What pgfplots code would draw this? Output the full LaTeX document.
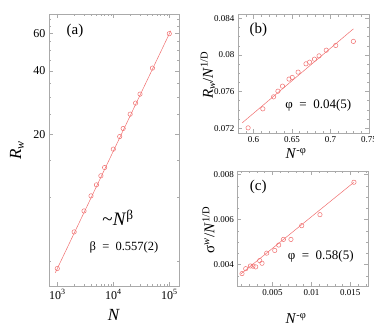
\documentclass[border=0pt]{standalone}
\usepackage{pgfplots}
\pgfplotsset{compat=1.18}
\usepackage{fontspec}
\setmainfont{Liberation Serif}
\definecolor{fitred}{RGB}{240,110,110}
\definecolor{frame}{RGB}{170,170,170}

\pgfplotsset{
  panel/.style={
    scale only axis, anchor=south west,
    axis line style={frame}, every tick/.style={frame},
    major tick length=4pt, minor tick length=2pt,
    scaled ticks=false,
    /pgf/number format/assume math mode=true,
    every axis label/.style={font=\fontsize{17}{17}\selectfont},
  },
  pts/.style={only marks, mark=o, mark size=2.2pt, fitred, mark options={line width=0.5pt}},
  fit/.style={fitred, line width=0.5pt, no marks},
}

\begin{document}
\begin{tikzpicture}
\useasboundingbox (0,0) rectangle (374pt,327pt);

% (a) R_w vs N, log-log
\begin{axis}[panel, at={(49pt,41pt)}, width=130pt, height=272pt,
  xmode=log, ymode=log,
  xmin=711, xmax=149000, ymin=3.81, ymax=74.4,
  xtick={1000,10000,100000},
  xticklabels={10\textsuperscript{3},10\textsuperscript{4},10\textsuperscript{5}},
  ytick={20,40,60}, yticklabels={20,40,60},
  minor ytick={5,10,15,25,30,35,45,50,55,65,70},
  ticklabel style={font=\fontsize{12}{12}\selectfont},
  xlabel={\textit{N}}, ylabel={\textit{R}\textsubscript{\textit{w}}},
  xlabel style={at={(axis description cs:0.5,-0.107)}, anchor=center},
  ylabel style={at={(axis description cs:-0.246,0.5)}, anchor=center},
]
\addplot[fit] coordinates {(920,4.40) (106000,61.9)};
\addplot[pts] coordinates {
(1000,4.61) (2000,6.88) (3000,8.65) (4000,10.2) (5000,11.5) (6000,12.7)
(7000,13.9) (10000,17.0) (13000,19.5) (15000,21.3) (20000,24.9)
(25000,28.1) (30000,31.0) (50000,41.2) (100000,60.0)};
\node[font=\fontsize{15}{15}\selectfont] at (axis description cs:0.2,0.9375) {(a)};
\node[font=\fontsize{19}{19}\selectfont] at (axis description cs:0.531,0.25) {\textasciitilde\textit{N}\textsuperscript{β}};
\node[font=\fontsize{12.5}{12.5}\selectfont] at (axis description cs:0.577,0.14) {β\ \ =\ \ 0.557(2)};
\end{axis}

% (b)
\begin{axis}[panel, at={(238pt,194.3pt)}, width=131pt, height=118pt,
  xmin=0.58, xmax=0.75, ymin=0.0715, ymax=0.0844,
  xtick={0.6,0.65,0.7,0.75}, xticklabels={0.6,0.65,0.7,0.75},
  ytick={0.072,0.076,0.08,0.084}, yticklabels={0.072,0.076,0.08,0.084},
  minor xtick={0.59,0.61,0.62,0.63,0.64,0.66,0.67,0.68,0.69,0.71,0.72,0.73,0.74},
  minor ytick={0.073,0.074,0.075,0.077,0.078,0.079,0.081,0.082,0.083},
  ticklabel style={font=\fontsize{9}{9}\selectfont},
  every axis label/.append style={font=\fontsize{15}{15}\selectfont},
  xlabel={\textit{N}\textsuperscript{-φ}},
  ylabel={\textit{R}\textsubscript{\textit{w}}/\textit{N}\textsuperscript{1/D}},
  xlabel style={at={(axis description cs:0.443,-0.178)}, anchor=center},
  ylabel style={at={(axis description cs:-0.229,0.489)}, anchor=center},
]
\addplot[fit] coordinates {(0.5855,0.07258) (0.7297,0.08285)};
\addplot[pts] coordinates {
(0.5931,0.07203) (0.6122,0.07411) (0.6262,0.07542) (0.6318,0.07604)
(0.6377,0.07659) (0.6462,0.07736) (0.6504,0.07754) (0.6580,0.07812)
(0.6682,0.07903) (0.6729,0.07921) (0.6792,0.07954) (0.6852,0.07990)
(0.6945,0.08052) (0.7068,0.08104) (0.7297,0.08148)};
\node[font=\fontsize{15}{15}\selectfont] at (axis description cs:0.155,0.87) {(b)};
\node[font=\fontsize{13}{13}\selectfont] at (axis description cs:0.613,0.234) {φ\ \ =\ \ 0.04(5)};
\end{axis}

% (c)
\begin{axis}[panel, at={(237.3pt,41pt)}, width=131pt, height=115pt,
  xmin=0.0005, xmax=0.0173, ymin=0.00305, ymax=0.00816,
  xtick={0.005,0.01,0.015}, xticklabels={0.005,0.01,0.015},
  ytick={0.004,0.006,0.008}, yticklabels={0.004,0.006,0.008},
  minor xtick={0.001,0.002,0.003,0.004,0.006,0.007,0.008,0.009,0.011,0.012,0.013,0.014,0.016,0.017},
  minor ytick={0.0035,0.0045,0.005,0.0055,0.0065,0.007,0.0075},
  ticklabel style={font=\fontsize{9}{9}\selectfont},
  every axis label/.append style={font=\fontsize{15}{15}\selectfont},
  xlabel={\textit{N}\textsuperscript{-φ}},
  ylabel={σ\textsuperscript{\textit{w}}/\textit{N}\textsuperscript{1/D}},
  xlabel style={at={(axis description cs:0.448,-0.285)}, anchor=center},
  ylabel style={at={(axis description cs:-0.22,0.487)}, anchor=center},
]
\addplot[fit] coordinates {(0.00094,0.00358) (0.01546,0.00766)};
\addplot[pts] coordinates {
(0.00110,0.00360) (0.00158,0.00382) (0.00218,0.00394) (0.00251,0.00393)
(0.00286,0.00390) (0.00337,0.00418) (0.00367,0.00406) (0.00427,0.00451)
(0.00530,0.00463) (0.00581,0.00487) (0.00641,0.00512) (0.00738,0.00512)
(0.00876,0.00573) (0.01110,0.00622) (0.01546,0.00766)};
\node[font=\fontsize{15}{15}\selectfont] at (axis description cs:0.16,0.863) {(c)};
\node[font=\fontsize{13}{13}\selectfont] at (axis description cs:0.637,0.26) {φ\ \ =\ \ 0.58(5)};
\end{axis}
\end{tikzpicture}
\end{document}
